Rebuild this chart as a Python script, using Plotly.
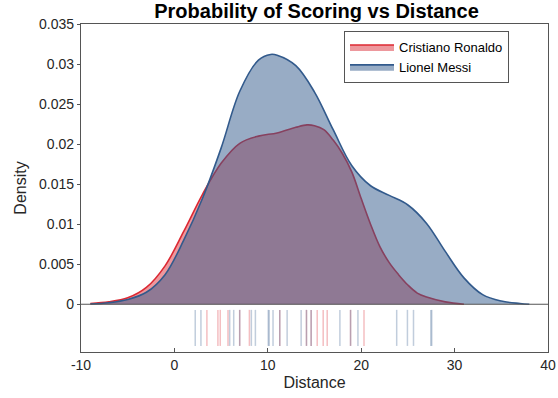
import plotly.graph_objects as go

# Density curves
ronaldo_x = [-9, -7, -5, -3, -1, 1, 3, 5, 7, 9, 11, 13, 14.2, 15, 16, 17, 18, 19, 20, 21, 22, 23, 24, 25, 26, 27, 29, 31]
ronaldo_y = [0.0001, 0.0003, 0.0008, 0.0021, 0.0048, 0.0091, 0.0137, 0.0176, 0.0201, 0.0210, 0.0214, 0.0221, 0.0224, 0.0223, 0.0218, 0.0205, 0.0188, 0.0165, 0.0132, 0.0100, 0.0072, 0.0052, 0.0037, 0.0024, 0.0014, 0.0009, 0.0003, 0.0]

messi_x = [-9, -7, -5, -3, -1, 1, 3, 5, 7, 9, 10.3, 11, 13, 15, 17, 19, 21, 23, 25, 27, 29, 31, 33, 35, 37, 38]
messi_y = [0.00003, 0.0002, 0.0006, 0.0015, 0.0037, 0.0080, 0.0132, 0.0195, 0.0266, 0.0305, 0.0312, 0.0311, 0.0298, 0.0265, 0.0218, 0.0173, 0.0148, 0.0136, 0.0124, 0.0101, 0.0066, 0.0033, 0.0012, 0.0004, 0.0001, 0.0]

# Shot distances (rug)
ronaldo_shots = [3.48, 4.66, 4.91, 5.74, 6.99, 8.03, 11.28, 14.14, 14.64, 15.29, 15.93, 16.36, 18.86, 20.3]
messi_shots = [2.23, 2.84, 5.92, 6.35, 6.99, 8.24, 8.67, 10.05, 10.15, 10.56, 11.28, 12.07, 13.57, 14.14,
               14.64, 17.72, 18.86, 19.65, 23.8, 24.95, 25.6, 27.45, 27.55]

x_ticks = [-10, 0, 10, 20, 30, 40]
x_tick_text = ["-10", "0", "10", "20", "30", "40"]
y_ticks = [0, 0.005, 0.01, 0.015, 0.02, 0.025, 0.03, 0.035]
y_tick_text = ["0", "0.005", "0.01", "0.015", "0.02", "0.025", "0.03", "0.035"]

names = ["Cristiano Ronaldo", "Lionel Messi"]
line_colors = ["rgb(220,40,50)", "rgb(50,90,140)"]
fill_colors = ["rgba(220,50,60,0.5)", "rgba(50,90,140,0.5)"]
rug_colors = ["rgba(220,40,50,0.3)", "rgba(50,90,140,0.3)"]

RUG_TOP, RUG_BOT = -0.0007, -0.0052

fig = go.Figure()

for name, xs, ys, lc, fc in zip(names, [ronaldo_x, messi_x], [ronaldo_y, messi_y], line_colors, fill_colors):
    fig.add_trace(go.Scatter(x=xs, y=ys, mode="lines", name=name, fill="tozeroy",
                             fillcolor=fc, line=dict(color=lc, width=1.6, shape="spline", smoothing=1.0)))

for shots, rc in zip([ronaldo_shots, messi_shots], rug_colors):
    rx, ry = [], []
    for s in shots:
        rx += [s, s, None]
        ry += [RUG_TOP, RUG_BOT, None]
    fig.add_trace(go.Scatter(x=rx, y=ry, mode="lines", showlegend=False, hoverinfo="skip",
                             line=dict(color=rc, width=1.5)))

axis_color = "rgb(85,85,85)"
font_color = "rgb(38,38,38)"

fig.add_shape(type="line", xref="paper", yref="y", x0=0, x1=1, y0=0, y1=0,
              line=dict(color=axis_color, width=1.2))

fig.update_layout(
    width=558, height=398,
    margin=dict(l=81, r=10, t=24, b=46, autoexpand=False),
    paper_bgcolor="white", plot_bgcolor="white",
    font=dict(family="Liberation Sans, Arial", size=14, color=font_color),
    title=dict(text="<b>Probability of Scoring vs Distance</b>", x=316.5 / 558, xanchor="center",
               xref="container", yref="container",
               y=1 - 11 / 398, yanchor="middle", font=dict(size=20, color="black")),
    showlegend=True,
    legend=dict(x=(344 - 81) / 467, xanchor="left", y=1 - (31 - 24) / 328, yanchor="top",
                bgcolor="white", bordercolor=axis_color, borderwidth=1,
                font=dict(size=13, color="black"), tracegroupgap=0,
                itemwidth=44),
)

fig.update_xaxes(range=[-10, 40], tickvals=x_ticks, ticktext=x_tick_text, showgrid=False, zeroline=False,
                 automargin=False,
                 showline=True, linecolor=axis_color, linewidth=1.2, mirror=True,
                 ticks="inside", ticklen=4, tickcolor=axis_color,
                 title=dict(text="Distance", font=dict(size=16), standoff=4))
fig.update_yaxes(range=[-0.00596, 0.035], tickvals=y_ticks, ticktext=y_tick_text,
                 showgrid=False, zeroline=False, automargin=False,
                 showline=True, linecolor=axis_color, linewidth=1.2, mirror=True,
                 ticks="outside", ticklen=3, tickcolor=axis_color,
                 title=dict(text="Density", font=dict(size=16), standoff=8))

fig.write_html("out.html", config={"displayModeBar": False},
               post_script="document.body.style.margin='0px';")
